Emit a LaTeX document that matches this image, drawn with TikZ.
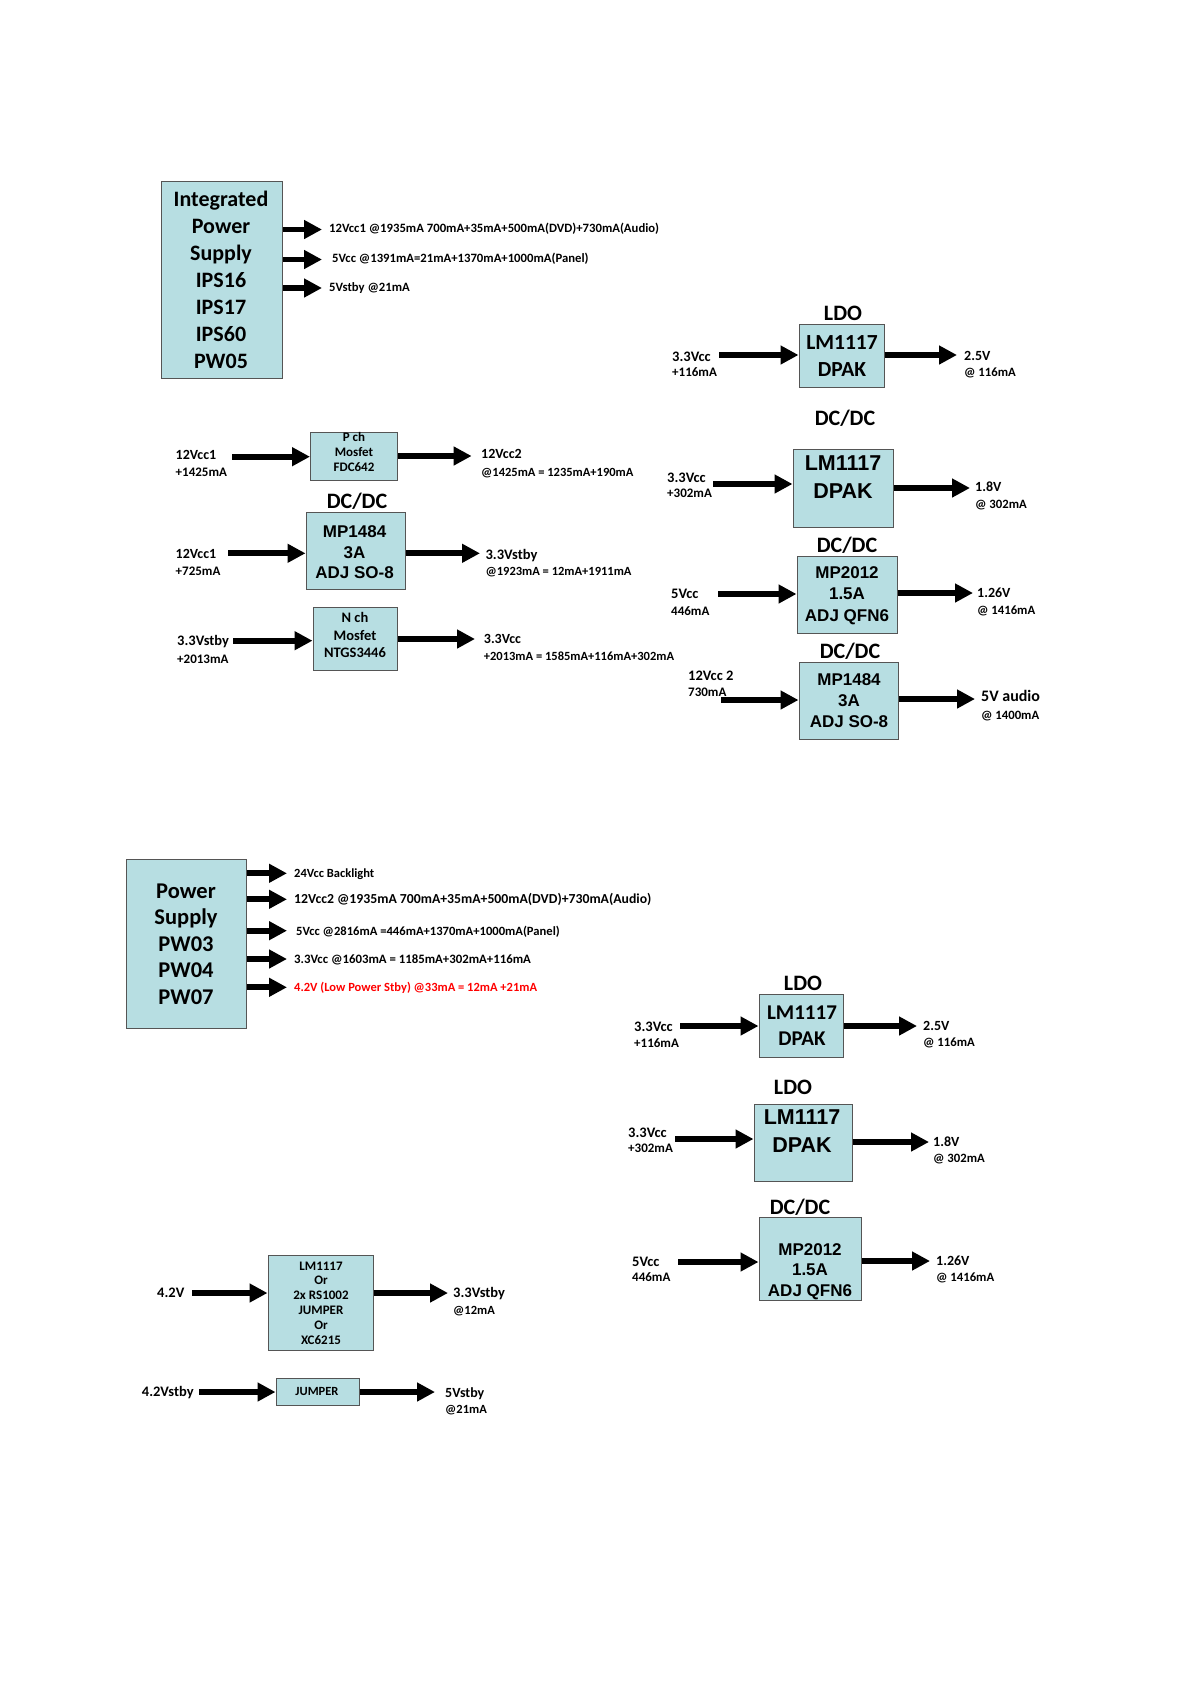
\documentclass[tikz,border=0pt]{standalone}
\usepackage{fontspec}
\setmainfont{Carlito}
\newfontfamily\arialf{Liberation Sans}
\usetikzlibrary{arrows.meta}
\definecolor{boxfill}{RGB}{183,222,226}
\definecolor{boxline}{RGB}{85,85,85}
\definecolor{warnred}{RGB}{255,0,0}
\tikzset{
 blk/.style={draw=boxline,fill=boxfill,line width=1pt,inner sep=0pt},
 arr/.style={line width=5.8pt,-{Triangle[length=18pt,width=18pt]}},
 lab/.style={anchor=mid west,inner sep=0pt,yshift=-2.2pt,font=\bfseries\fontsize{#1}{#1}\selectfont},
 ttl/.style={inner sep=0pt,font=\bfseries\fontsize{#1}{#1}\selectfont},
 ctx/.style 2 args={inner sep=0pt,align=center,font=\bfseries\fontsize{#1}{#2}\selectfont},
 atx/.style 2 args={inner sep=0pt,align=center,font=\arialf\bfseries\fontsize{#1}{#2}\selectfont},
}
\begin{document}
\begin{tikzpicture}[x=1pt,y=-1pt]
\fill[white] (0,0) rectangle (1192,1684);
\useasboundingbox (0,0) rectangle (1192,1684);

% ---------------- Integrated Power Supply ----------------
\node[blk,minimum width=121.5pt,minimum height=197pt] (ips) at (221.75,279.5) {};
\node[ctx={22}{27}] (ipst) at (221,280.3) {Integrated\\Power\\Supply\\IPS16\\IPS17\\IPS60\\PW05};
\coordinate (ipsa) at (322,229.5);
\coordinate (ipsb) at (322,259.5);
\coordinate (ipsc) at (322,288);
\draw[arr] (ips.east |- ipsa) -- (ipsa);
\draw[arr] (ips.east |- ipsb) -- (ipsb);
\draw[arr] (ips.east |- ipsc) -- (ipsc);
\node[lab=12.7] (ipsat) at (329,228) {12Vcc1 @1935mA 700mA+35mA+500mA(DVD)+730mA(Audio)};
\node[lab=12.7] (ipsbt) at (332,258) {5Vcc @1391mA=21mA+1370mA+1000mA(Panel)};
\node[lab=12.7] (ipsct) at (329,286.7) {5Vstby @21mA};

% ---------------- top right LDO ----------------
\node[ttl=22] (t1) at (843,313) {LDO};
\node[blk,minimum width=85pt,minimum height=63pt] (ldoa) at (841.5,355.5) {};
\node[ctx={21.5}{27}] (ldoat) at (842,356.5) {LM1117\\DPAK};
\coordinate (ldoai) at (719,355);
\coordinate (ldoao) at (957,355);
\draw[arr] (ldoai) -- (ldoa.west |- ldoai);
\draw[arr] (ldoa.east |- ldoao) -- (ldoao);
\node[lab=14.5] (ldoal1) at (672,357) {3.3Vcc};
\node[lab=13] (ldoal2) at (672,372) {+116mA};
\node[lab=14] (ldoar1) at (964,356) {2.5V};
\node[lab=12.7] (ldoar2) at (964,372) {@ 116mA};

% ---------------- big LM1117 ----------------
\node[ttl=22] (t2) at (845,418) {DC/DC};
\node[blk,minimum width=100pt,minimum height=78pt] (lmb) at (843,488) {};
\node[atx={21.5}{28}] (lmbt) at (843,477) {LM1117\\DPAK};
\coordinate (lmbi) at (713,484);
\coordinate (lmbo) at (970,488);
\draw[arr] (lmbi) -- (lmb.west |- lmbi);
\draw[arr] (lmb.east |- lmbo) -- (lmbo);
\node[lab=14.5] (lmbl1) at (667,478) {3.3Vcc};
\node[lab=13] (lmbl2) at (667,493) {+302mA};
\node[lab=14] (lmbr1) at (975,487) {1.8V};
\node[lab=12.7] (lmbr2) at (975,504) {@ 302mA};

% ---------------- MP2012 right ----------------
\node[ttl=22] (t3) at (847,545) {DC/DC};
\node[blk,minimum width=100pt,minimum height=77pt] (mpa) at (847,594.5) {};
\node[atx={17}{21.5}] (mpat) at (847,595.5) {MP2012\\1.5A\\ADJ QFN6};
\coordinate (mpai) at (718,594);
\coordinate (mpao) at (973,593);
\draw[arr] (mpai) -- (mpa.west |- mpai);
\draw[arr] (mpa.east |- mpao) -- (mpao);
\node[lab=14.5] (mpal1) at (671,594) {5Vcc};
\node[lab=13] (mpal2) at (671,611) {446mA};
\node[lab=14] (mpar1) at (977,593) {1.26V};
\node[lab=12.7] (mpar2) at (977,610) {@ 1416mA};

% ---------------- MP1484 right ----------------
\node[ttl=22] (t4) at (850,651) {DC/DC};
\node[blk,minimum width=99pt,minimum height=77pt] (mpb) at (848.5,700.5) {};
\node[atx={17}{21}] (mpbt) at (849,701) {MP1484\\3A\\ADJ SO-8};
\coordinate (mpbi) at (721,700);
\coordinate (mpbo) at (975,699);
\draw[arr] (mpbi) -- (mpb.west |- mpbi);
\draw[arr] (mpb.east |- mpbo) -- (mpbo);
\node[lab=14.5] (mpbl1) at (688,676) {12Vcc 2};
\node[lab=13] (mpbl2) at (688,692) {730mA};
\node[lab=16] (mpbr1) at (981,697) {5V audio};
\node[lab=12.7] (mpbr2) at (981,715) {@ 1400mA};

% ---------------- P ch Mosfet ----------------
\node[blk,minimum width=87pt,minimum height=48.7pt] (pch) at (354,456.35) {};
\node[ctx={13}{15}] (pcht) at (354,452) {P ch\\Mosfet\\FDC642};
\coordinate (pchi) at (232,456.7);
\coordinate (pcho) at (471.6,456);
\draw[arr] (pchi) -- (pch.west |- pchi);
\draw[arr] (pch.east |- pcho) -- (pcho);
\node[lab=14] (pchl1) at (175.5,455) {12Vcc1};
\node[lab=13] (pchl2) at (175.5,472.3) {+1425mA};
\node[lab=14] (pchr1) at (481,454.3) {12Vcc2};
\node[lab=12.5] (pchr2) at (481,471.7) {@1425mA = 1235mA+190mA};

% ---------------- MP1484 left ----------------
\node[ttl=22] (t5) at (357,501.7) {DC/DC};
\node[blk,minimum width=99.5pt,minimum height=76.6pt] (mpc) at (355.75,551) {};
\node[atx={17}{20.5}] (mpct) at (354.6,552.5) {MP1484\\3A\\ADJ SO-8};
\coordinate (mpci) at (228,553.3);
\coordinate (mpco) at (480,553.3);
\draw[arr] (mpci) -- (mpc.west |- mpci);
\draw[arr] (mpc.east |- mpco) -- (mpco);
\node[lab=14] (mpcl1) at (175.5,554.3) {12Vcc1};
\node[lab=13] (mpcl2) at (175.5,571) {+725mA};
\node[lab=14.5] (mpcr1) at (485.4,555) {3.3Vstby};
\node[lab=12.5] (mpcr2) at (485.4,571) {@1923mA = 12mA+1911mA};

% ---------------- N ch Mosfet ----------------
\node[blk,minimum width=84.6pt,minimum height=62.7pt] (nch) at (355.3,638.65) {};
\node[ctx={14.5}{17.7}] (ncht) at (355,635) {N ch\\Mosfet\\NTGS3446};
\coordinate (nchi) at (233,640.7);
\coordinate (ncho) at (475,639);
\draw[arr] (nchi) -- (nch.west |- nchi);
\draw[arr] (nch.east |- ncho) -- (ncho);
\node[lab=14.5] (nchl1) at (177,640.7) {3.3Vstby};
\node[lab=13] (nchl2) at (177,658.7) {+2013mA};
\node[lab=14] (nchr1) at (483.7,639) {3.3Vcc};
\node[lab=12.5] (nchr2) at (483.7,656) {+2013mA = 1585mA+116mA+302mA};

% ---------------- Power Supply ----------------
\node[blk,minimum width=119.5pt,minimum height=169pt] (ps) at (186.25,943.5) {};
\node[ctx={22.5}{26.5}] (pst) at (186,944) {Power\\Supply\\PW03\\PW04\\PW07};
\coordinate (psa) at (287,873.3);
\coordinate (psb) at (287,899.3);
\coordinate (psc) at (287,930.7);
\coordinate (psd) at (287,959);
\coordinate (pse) at (287,987.3);
\draw[arr] (ps.east |- psa) -- (psa);
\draw[arr] (ps.east |- psb) -- (psb);
\draw[arr] (ps.east |- psc) -- (psc);
\draw[arr] (ps.east |- psd) -- (psd);
\draw[arr] (ps.east |- pse) -- (pse);
\node[lab=12.5] (psat) at (294,873.3) {24Vcc Backlight};
\node[lab=13.75] (psbt) at (294,899.3) {12Vcc2 @1935mA 700mA+35mA+500mA(DVD)+730mA(Audio)};
\node[lab=12.6] (psct) at (296,930.7) {5Vcc @2816mA =446mA+1370mA+1000mA(Panel)};
\node[lab=12.8] (psdt) at (294,959) {3.3Vcc @1603mA = 1185mA+302mA+116mA};
\node[lab=12.5,text=warnred] (pset) at (294,987.3) {4.2V (Low Power Stby) @33mA = 12mA +21mA};

% ---------------- bottom LDO 1 ----------------
\node[ttl=22] (t6) at (803,983) {LDO};
\node[blk,minimum width=84pt,minimum height=63pt] (ldob) at (801,1025.5) {};
\node[ctx={21}{26}] (ldobt) at (802,1026) {LM1117\\DPAK};
\coordinate (ldobi) at (680,1026);
\coordinate (ldobo) at (917,1026);
\draw[arr] (ldobi) -- (ldob.west |- ldobi);
\draw[arr] (ldob.east |- ldobo) -- (ldobo);
\node[lab=14.5] (ldobl1) at (634,1027) {3.3Vcc};
\node[lab=13] (ldobl2) at (634,1043) {+116mA};
\node[lab=14] (ldobr1) at (923,1026) {2.5V};
\node[lab=12.7] (ldobr2) at (923,1042) {@ 116mA};

% ---------------- bottom LDO 2 ----------------
\node[ttl=22] (t7) at (793,1087) {LDO};
\node[blk,minimum width=98pt,minimum height=77pt] (ldoc) at (803,1142.5) {};
\node[atx={21.5}{28}] (ldoct) at (802,1131) {LM1117\\DPAK};
\coordinate (ldoci) at (675,1139);
\coordinate (ldoco) at (929,1142);
\draw[arr] (ldoci) -- (ldoc.west |- ldoci);
\draw[arr] (ldoc.east |- ldoco) -- (ldoco);
\node[lab=14.5] (ldocl1) at (628,1133) {3.3Vcc};
\node[lab=13] (ldocl2) at (628,1148) {+302mA};
\node[lab=14] (ldocr1) at (933,1142) {1.8V};
\node[lab=12.7] (ldocr2) at (933,1158) {@ 302mA};

% ---------------- bottom MP2012 ----------------
\node[ttl=22] (t8) at (800,1207) {DC/DC};
\node[blk,minimum width=102pt,minimum height=83pt] (mpd) at (810,1258.5) {};
\node[atx={17}{20.5}] (mpdt) at (810,1271.5) {MP2012\\1.5A\\ADJ QFN6};
\coordinate (mpdi) at (678,1262);
\coordinate (mpdo) at (930,1261);
\draw[arr] (mpdi) -- (mpd.west |- mpdi);
\draw[arr] (mpd.east |- mpdo) -- (mpdo);
\node[lab=14.5] (mpdl1) at (632,1262) {5Vcc};
\node[lab=13] (mpdl2) at (632,1277) {446mA};
\node[lab=14] (mpdr1) at (936,1261) {1.26V};
\node[lab=12.7] (mpdr2) at (936,1277) {@ 1416mA};

% ---------------- LM1117 / RS1002 / XC6215 ----------------
\node[blk,minimum width=105pt,minimum height=95pt] (lmor) at (320.5,1302.5) {};
\node[ctx={13}{14.8}] (lmort) at (321,1303) {LM1117\\Or\\2x RS1002\\JUMPER\\Or\\XC6215};
\coordinate (lmori) at (192,1293);
\coordinate (lmoro) at (448,1293);
\draw[arr] (lmori) -- (lmor.west |- lmori);
\draw[arr] (lmor.east |- lmoro) -- (lmoro);
\node[lab=14.5] (lmorl1) at (157,1293) {4.2V};
\node[lab=14.5] (lmorr1) at (453,1293) {3.3Vstby};
\node[lab=12.5] (lmorr2) at (453,1310) {@12mA};

% ---------------- JUMPER ----------------
\node[blk,minimum width=83pt,minimum height=27pt] (jmp) at (317.5,1391.5) {};
\node[ctx={12.5}{12.5}] (jmpt) at (317,1391.7) {JUMPER};
\coordinate (jmpi) at (199,1392);
\coordinate (jmpo) at (435,1392);
\draw[arr] (jmpi) -- (jmp.west |- jmpi);
\draw[arr] (jmp.east |- jmpo) -- (jmpo);
\node[lab=14.5] (jmpl1) at (141.7,1392) {4.2Vstby};
\node[lab=14] (jmpr1) at (445,1393) {5Vstby};
\node[lab=12.5] (jmpr2) at (445,1409) {@21mA};
\end{tikzpicture}
\end{document}
